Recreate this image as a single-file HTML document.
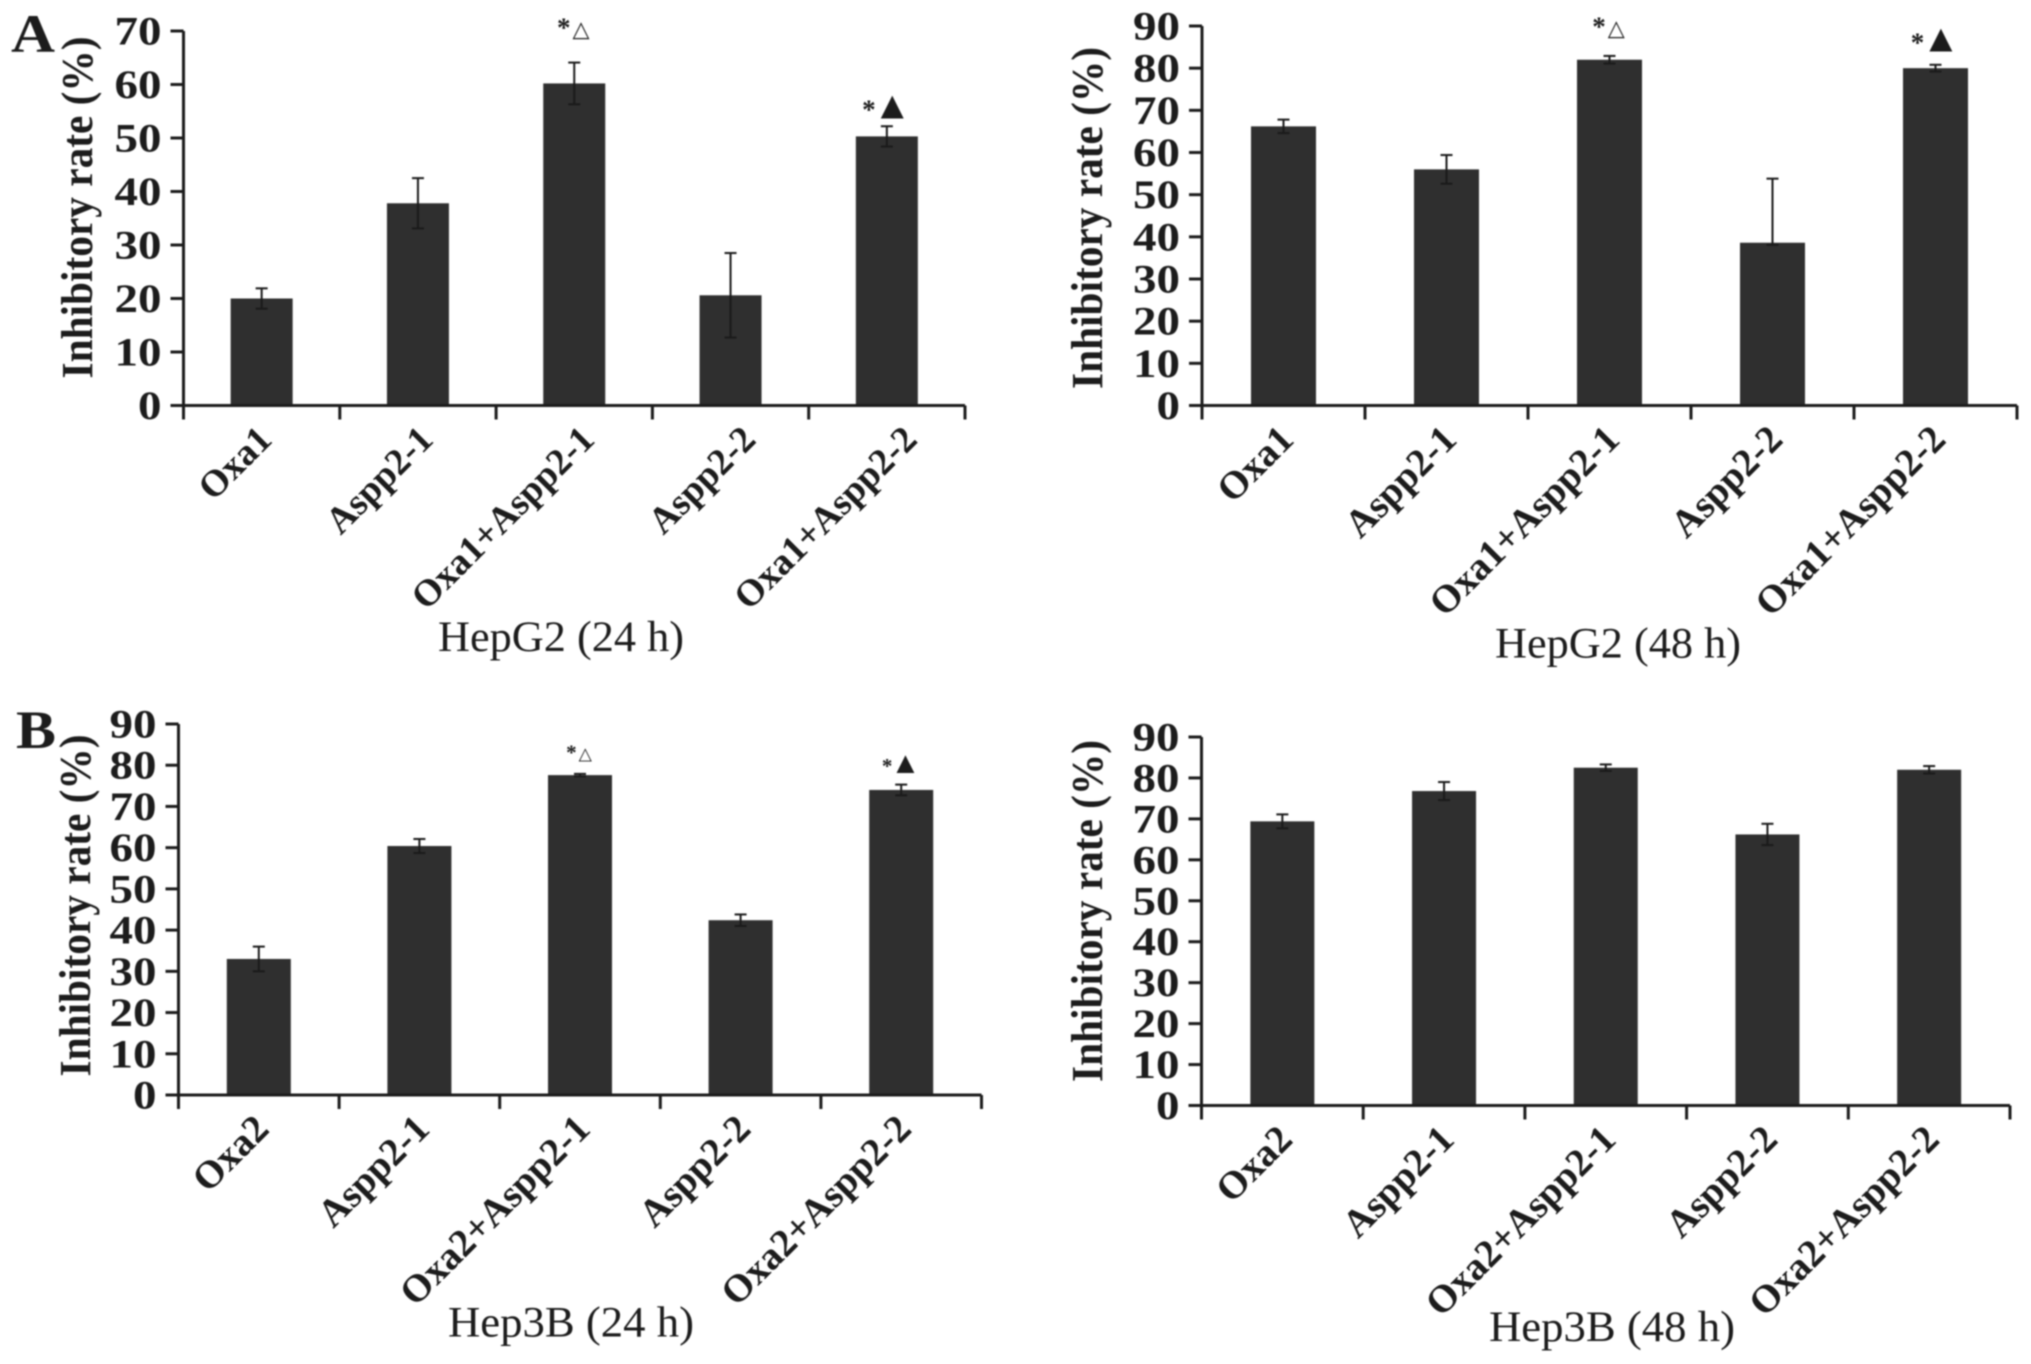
<!DOCTYPE html>
<html lang="en">
<head>
<meta charset="utf-8">
<title>Inhibitory rate bar charts</title>
<style>
html,body{margin:0;padding:0;background:#fff;}
body{width:2031px;height:1364px;overflow:hidden;}
svg{display:block;filter:blur(0.7px);}
text{font-family:"Liberation Serif","DejaVu Serif",serif;fill:#1c1c1c;}
</style>
</head>
<body>
<svg id="figure" width="2031" height="1364" viewBox="0 0 2031 1364" xmlns="http://www.w3.org/2000/svg">
  <text x="11" y="52" font-size="54" font-weight="bold" textLength="44" lengthAdjust="spacingAndGlyphs">A</text>
  <text x="16" y="748" font-size="54" font-weight="bold" textLength="40" lengthAdjust="spacingAndGlyphs">B</text>
</svg>
<script>
// Chart data
const categoriesOxa1 = ["Oxa1", "Aspp2-1", "Oxa1+Aspp2-1", "Aspp2-2", "Oxa1+Aspp2-2"];
const categoriesOxa2 = ["Oxa2", "Aspp2-1", "Oxa2+Aspp2-1", "Aspp2-2", "Oxa2+Aspp2-2"];

const hepG224Values = [20, 37.8, 60.2, 20.6, 50.3];
const hepG224Errors = [1.9, 4.7, 3.9, 7.9, 1.9];
const hepG224LowerErrors = [1.9, 4.7, 3.9, 7.9, 1.9];
const hepG224Ticks = [0, 10, 20, 30, 40, 50, 60, 70];
const hepG224Marks = ["", "", "*\u25B3", "", "*\u25B2"];
const hepG224MarkLevels = [0, 0, 70.8, 0, 55.5];

const hepG248Values = [66.2, 56, 82, 38.6, 80];
const hepG248Errors = [1.6, 3.4, 0.9, 15.2, 0.8];
const hepG248LowerErrors = [1.6, 3.4, 0.9, 0.5, 0.8];
const hepG248Ticks = [0, 10, 20, 30, 40, 50, 60, 70, 80, 90];
const hepG248Marks = ["", "", "*\u25B3", "", "*\u25B2"];
const hepG248MarkLevels = [0, 0, 90, 0, 86.3];

const hep3B24Values = [33, 60.4, 77.6, 42.4, 74];
const hep3B24Errors = [3, 1.7, 0.3, 1.4, 1.3];
const hep3B24LowerErrors = [3, 1.7, 0.3, 1.4, 1.3];
const hep3B24Ticks = [0, 10, 20, 30, 40, 50, 60, 70, 80, 90];
const hep3B24Marks = ["", "", "*\u25B3", "", "*\u25B2"];
const hep3B24MarkLevels = [0, 0, 83.2, 0, 80];

const hep3B48Values = [69.4, 76.8, 82.5, 66.2, 82];
const hep3B48Errors = [1.7, 2.2, 0.8, 2.6, 0.9];
const hep3B48LowerErrors = [1.7, 2.2, 0.8, 2.6, 0.9];
const hep3B48Ticks = [0, 10, 20, 30, 40, 50, 60, 70, 80, 90];
const hep3B48Marks = ["", "", "", "", ""];
const hep3B48MarkLevels = [0, 0, 0, 0, 0];

const panelTitles = ["HepG2 (24 h)", "HepG2 (48 h)", "Hep3B (24 h)", "Hep3B (48 h)"];
const yAxisTitle = "Inhibitory rate (%)";

// Layout (separate from the data)
const panels = [
  {key:"hepg2-24h", cats:categoriesOxa1, vals:hepG224Values, errs:hepG224Errors, lows:hepG224LowerErrors, ticks:hepG224Ticks, marks:hepG224Marks, levels:hepG224MarkLevels, title:panelTitles[0],
   left:183.5, right:965, top:31, base:405.5, barW:62, titleX:561, titleY:651, yTitleX:92, yTitleC:207.5, markSize:27, labelSize:37.5, labelDrift:5},
  {key:"hepg2-48h", cats:categoriesOxa1, vals:hepG248Values, errs:hepG248Errors, lows:hepG248LowerErrors, ticks:hepG248Ticks, marks:hepG248Marks, levels:hepG248MarkLevels, title:panelTitles[1],
   left:1202, right:2017, top:26, base:405.5, barW:65, titleX:1618, titleY:657.5, yTitleX:1102, yTitleC:218, markSize:27, labelSize:39, labelDrift:0},
  {key:"hep3b-24h", cats:categoriesOxa2, vals:hep3B24Values, errs:hep3B24Errors, lows:hep3B24LowerErrors, ticks:hep3B24Ticks, marks:hep3B24Marks, levels:hep3B24MarkLevels, title:panelTitles[2],
   left:178.5, right:981.5, top:724, base:1095, barW:64, titleX:571, titleY:1336.5, yTitleX:90, yTitleC:905.5, markSize:21, labelSize:39, labelDrift:0},
  {key:"hep3b-48h", cats:categoriesOxa2, vals:hep3B48Values, errs:hep3B48Errors, lows:hep3B48LowerErrors, ticks:hep3B48Ticks, marks:hep3B48Marks, levels:hep3B48MarkLevels, title:panelTitles[3],
   left:1201.5, right:2010, top:737, base:1105.5, barW:64, titleX:1612, titleY:1341, yTitleX:1102, yTitleC:911, markSize:21, labelSize:39, labelDrift:0}
];

const NS = "http://www.w3.org/2000/svg";
const root = document.getElementById("figure");
const INK = "#1c1c1c";
const BAR = "#2f2f2f";

function make(parent, tag, attrs, content) {
  const node = document.createElementNS(NS, tag);
  for (const k in attrs) node.setAttribute(k, attrs[k]);
  if (content !== undefined) node.textContent = content;
  parent.appendChild(node);
  return node;
}

panels.forEach(function (p) {
  const maxTick = p.ticks[p.ticks.length - 1];
  const yScale = function (v) { return p.base - (v / maxTick) * (p.base - p.top); };
  const step = (p.right - p.left) / p.cats.length;
  const xCenter = function (i) { return p.left + (i + 0.5) * step; };

  const g = make(root, "g", {});
  
  

  // bars
  p.vals.forEach(function (v, i) {
    const bar = make(g, "rect", {x: xCenter(i) - p.barW / 2, y: yScale(v), width: p.barW, height: p.base - yScale(v), fill: BAR});
    
    
  });

  // error bars
  p.errs.forEach(function (e, i) {
    const cx = xCenter(i);
    const hi = yScale(p.vals[i] + e);
    const lo = yScale(p.vals[i] - p.lows[i]);
    const eg = make(g, "g", {stroke: "#1a1a1a", "stroke-width": 2, fill: "none"});
    
    
    make(eg, "line", {x1: cx, x2: cx, y1: hi, y2: lo});
    make(eg, "line", {x1: cx - 6, x2: cx + 6, y1: hi, y2: hi});
    make(eg, "line", {x1: cx - 6, x2: cx + 6, y1: lo, y2: lo});
  });

  // significance marks
  p.marks.forEach(function (m, i) {
    if (!m) return;
    const filled = m.charAt(1) === "\u25B2";
    const t = make(g, "text", {x: xCenter(i) - (filled ? 0 : 1), y: yScale(p.levels[i]) + p.markSize * 0.36, "text-anchor": "middle", "font-size": p.markSize, "font-weight": "bold", style: 'font-family:"Liberation Serif","DejaVu Sans",sans-serif'});
    
    
    make(t, "tspan", {}, m.charAt(0));
    make(t, "tspan", {"font-size": p.markSize * (filled ? 1.45 : 0.82), dx: filled ? -p.markSize * 0.1 : 2}, m.charAt(1));
  });

  // axes
  const axis = make(g, "g", {stroke: INK, "stroke-width": 3, fill: "none"});
  
  
  make(axis, "line", {x1: p.left, x2: p.left, y1: p.top, y2: p.base + 14});
  make(axis, "line", {x1: p.left - 13, x2: p.right, y1: p.base, y2: p.base});
  p.ticks.forEach(function (t) {
    make(axis, "line", {x1: p.left - 13, x2: p.left, y1: yScale(t), y2: yScale(t)});
  });
  p.cats.forEach(function (c, i) {
    const x = p.left + (i + 1) * step;
    make(axis, "line", {x1: x, x2: x, y1: p.base, y2: p.base + 14});
  });

  // y tick labels
  p.ticks.forEach(function (t) {
    const s = String(t);
    const label = make(g, "text", {x: p.left - 22, y: yScale(t) + 13.5, "text-anchor": "end", "font-size": 40, "font-weight": "bold", textLength: s.length * 23.5, lengthAdjust: "spacingAndGlyphs"}, s);
    
    
  });

  // category labels
  p.cats.forEach(function (c, i) {
    const ax = xCenter(i) + 12 + i * p.labelDrift;
    const ay = p.base + 36;
    const label = make(g, "text", {x: ax, y: ay, "text-anchor": "end", "font-size": p.labelSize, "font-weight": "bold", transform: "rotate(-45 " + ax + " " + ay + ")"}, c);
    
    
  });

  // y axis title
  const yt = make(g, "text", {x: p.yTitleX, y: p.yTitleC, "text-anchor": "middle", "font-size": 44, "font-weight": "bold", textLength: 342, lengthAdjust: "spacingAndGlyphs", transform: "rotate(-90 " + p.yTitleX + " " + p.yTitleC + ")"}, yAxisTitle);
  
  

  // panel title
  const ti = make(g, "text", {x: p.titleX, y: p.titleY, "text-anchor": "middle", "font-size": 43, textLength: 246, lengthAdjust: "spacingAndGlyphs"}, p.title);
  
  
});
</script>
</body>
</html>
